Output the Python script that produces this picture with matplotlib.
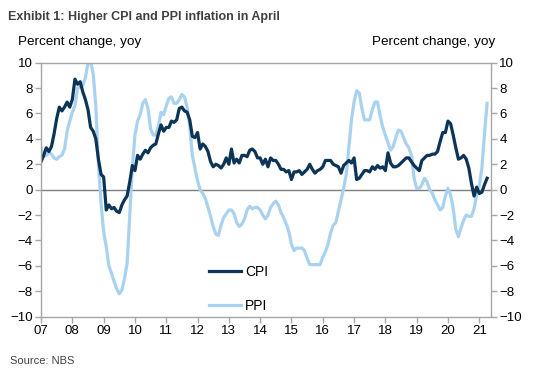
import numpy as np
import matplotlib
matplotlib.use('Agg')
import matplotlib.pyplot as plt

plt.rcParams['font.family'] = ['Liberation Sans', 'DejaVu Sans']

# monthly yoy, Jan 2007 .. Apr 2021
cpi = [
    2.2, 2.7, 3.3, 3.0, 3.4, 4.4, 5.6, 6.5, 6.2, 6.5, 6.9, 6.5,    # 2007
    7.1, 8.7, 8.3, 8.5, 7.7, 7.1, 6.3, 4.9, 4.6, 4.0, 2.4, 1.2,    # 2008
    1.0, -1.6, -1.2, -1.5, -1.4, -1.7, -1.8, -1.2, -0.8, -0.5, 0.6, 1.9,  # 2009
    1.5, 2.7, 2.4, 2.8, 3.1, 2.9, 3.3, 3.5, 3.6, 4.4, 5.1, 4.6,    # 2010
    4.9, 4.9, 5.4, 5.3, 5.5, 6.4, 6.5, 6.2, 6.1, 5.5, 4.2, 4.1,    # 2011
    4.5, 3.2, 3.6, 3.4, 3.0, 2.2, 1.8, 2.0, 1.9, 1.7, 2.0, 2.5,    # 2012
    2.0, 3.2, 2.1, 2.4, 2.1, 2.7, 2.7, 2.6, 3.1, 3.2, 3.0, 2.5,    # 2013
    2.5, 2.0, 2.4, 1.8, 2.5, 2.3, 2.3, 2.0, 1.6, 1.6, 1.4, 1.5,    # 2014
    0.8, 1.4, 1.4, 1.5, 1.2, 1.4, 1.6, 2.0, 1.6, 1.3, 1.5, 1.6,    # 2015
    1.8, 2.3, 2.3, 2.3, 2.0, 1.9, 1.8, 1.3, 1.9, 2.1, 2.3, 2.1,    # 2016
    2.5, 0.8, 0.9, 1.2, 1.5, 1.5, 1.4, 1.8, 1.6, 1.9, 1.7, 1.8,    # 2017
    1.5, 2.9, 2.1, 1.8, 1.8, 1.9, 2.1, 2.3, 2.5, 2.5, 2.2, 1.9,    # 2018
    1.7, 1.5, 2.3, 2.5, 2.7, 2.7, 2.8, 2.8, 3.0, 3.8, 4.5, 4.5,    # 2019
    5.4, 5.2, 4.3, 3.3, 2.4, 2.5, 2.7, 2.4, 1.7, 0.5, -0.5, 0.2,   # 2020
    -0.3, -0.2, 0.4, 0.9,                                          # 2021
]
ppi = [
    3.3, 2.6, 2.7, 2.9, 2.8, 2.5, 2.4, 2.6, 2.7, 3.2, 4.6, 5.4,    # 2007
    6.1, 6.6, 8.0, 8.1, 8.2, 8.8, 10.0, 10.1, 9.1, 6.6, 2.0, -1.1,  # 2008
    -3.3, -4.5, -6.0, -6.6, -7.2, -7.8, -8.2, -7.9, -7.0, -5.8, -2.1, 1.7,  # 2009
    4.3, 5.4, 5.9, 6.8, 7.1, 6.4, 4.8, 4.3, 4.3, 5.0, 6.1, 5.9,    # 2010
    6.6, 7.2, 7.3, 6.8, 6.8, 7.1, 7.5, 7.3, 6.5, 5.0, 2.7, 1.7,    # 2011
    0.7, 0.0, -0.3, -0.7, -1.4, -2.1, -2.9, -3.5, -3.6, -2.8, -2.2, -1.9,  # 2012
    -1.6, -1.6, -1.9, -2.6, -2.9, -2.7, -2.3, -1.6, -1.3, -1.5, -1.4, -1.4,  # 2013
    -1.6, -2.0, -2.3, -2.0, -1.4, -1.1, -0.9, -1.2, -1.8, -2.2, -2.7, -3.3,  # 2014
    -4.3, -4.8, -4.6, -4.6, -4.6, -4.8, -5.4, -5.9, -5.9, -5.9, -5.9, -5.9,  # 2015
    -5.3, -4.9, -4.3, -3.4, -2.8, -2.6, -1.7, -0.8, 0.1, 1.2, 3.3, 5.5,  # 2016
    6.9, 7.8, 7.6, 6.4, 5.5, 5.5, 5.5, 6.3, 6.9, 6.9, 5.8, 4.9,    # 2017
    4.3, 3.7, 3.1, 3.4, 4.1, 4.7, 4.6, 4.1, 3.6, 3.3, 2.7, 0.9,    # 2018
    0.1, 0.1, 0.4, 0.9, 0.6, 0.0, -0.3, -0.8, -1.2, -1.6, -1.4, -0.5,  # 2019
    0.1, -0.4, -1.5, -3.1, -3.7, -3.0, -2.4, -2.0, -2.1, -2.1, -1.5, -0.4,  # 2020
    0.3, 1.7, 4.4, 6.8,                                            # 2021
]
years = list(range(2007, 2022))
year_labels = [f"{y % 100:02d}" for y in years]

t = 2007 + np.arange(len(cpi)) / 12.0

fig = plt.figure(figsize=(5.4, 3.73), dpi=100)
ax = fig.add_axes([0.076, 0.151, 0.833, 0.681])

grey = '#a6a6a6'
ax.plot(t, ppi, color='#a9d2f0', lw=2.3, label='PPI', solid_joinstyle='round')
ax.plot(t, cpi, color='#0c3457', lw=2.3, label='CPI', solid_joinstyle='round')
ax.axhline(0, color='#7f7f7f', lw=1.0, zorder=1)

ax.set_xlim(2007, 2021.37)
ax.set_ylim(-10, 10)
ax.set_yticks(range(-10, 11, 2))
ax.set_xticks(years)
ax.set_xticklabels(year_labels)

for s in ax.spines.values():
    s.set_color(grey)
    s.set_linewidth(1.0)

ax.tick_params(axis='both', colors=grey, labelcolor='black', labelsize=9.5,
               length=4, width=1.0)
ax.tick_params(axis='y', pad=2)
ax.tick_params(axis='x', pad=2)

ax2 = ax.twinx()
ax2.set_ylim(-10, 10)
ax2.set_yticks(range(-10, 11, 2))
ax2.tick_params(axis='y', colors=grey, labelcolor='black', labelsize=9.5,
                length=4, width=1.0, pad=2)
for s in ax2.spines.values():
    s.set_visible(False)

h, l = ax.get_legend_handles_labels()
ax.legend(h[::-1], l[::-1], loc='lower left', bbox_to_anchor=(0.345, -0.035),
          frameon=False, fontsize=10, handlelength=2.3, handletextpad=0.3,
          labelspacing=1.45)

fig.text(0.015, 0.955, 'Exhibit 1: Higher CPI and PPI inflation in April',
         fontsize=9, fontweight='bold', color='#404040', va='center')
fig.text(0.033, 0.888, 'Percent change, yoy', fontsize=9.7, va='center')
fig.text(0.918, 0.888, 'Percent change, yoy', fontsize=9.7, va='center',
         ha='right')
fig.text(0.018, 0.032, 'Source: NBS', fontsize=8, color='#404040',
         va='center')

fig.savefig('out.png', dpi=100)
